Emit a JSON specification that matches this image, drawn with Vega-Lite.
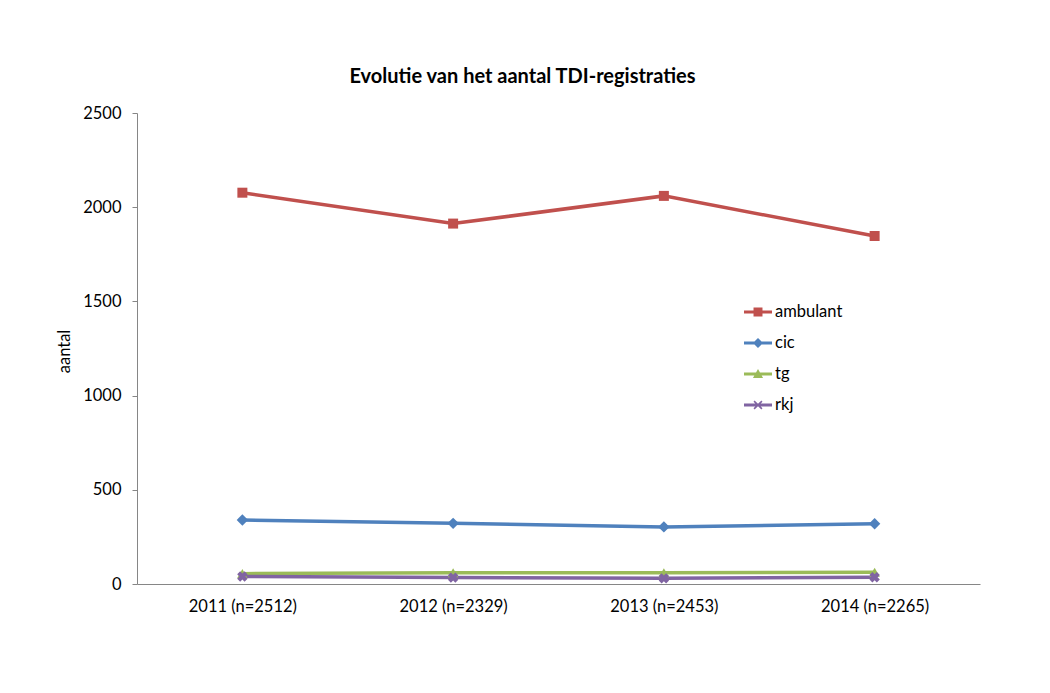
{
  "$schema": "https://vega.github.io/schema/vega-lite/v6.json",
  "autosize": {"type": "none"},
  "width": 843,
  "height": 471,
  "padding": {"left": 137, "top": 113, "right": 70, "bottom": 109},
  "background": "white",
  "config": {
    "font": "Lato",
    "view": {"stroke": null}
  },
  "title": {
    "text": "Evolutie van het aantal TDI-registraties",
    "fontSize": 20,
    "fontWeight": "bold",
    "font": "Lato",
    "color": "#000000",
    "anchor": "middle",
    "dx": -36,
    "offset": 18
  },
  "datasets": {
    "tdi": [
      {"jaar": "2011 (n=2512)", "reeks": "ambulant", "aantal": 2077},
      {"jaar": "2012 (n=2329)", "reeks": "ambulant", "aantal": 1913},
      {"jaar": "2013 (n=2453)", "reeks": "ambulant", "aantal": 2060},
      {"jaar": "2014 (n=2265)", "reeks": "ambulant", "aantal": 1847},
      {"jaar": "2011 (n=2512)", "reeks": "cic", "aantal": 340},
      {"jaar": "2012 (n=2329)", "reeks": "cic", "aantal": 322},
      {"jaar": "2013 (n=2453)", "reeks": "cic", "aantal": 303},
      {"jaar": "2014 (n=2265)", "reeks": "cic", "aantal": 320},
      {"jaar": "2011 (n=2512)", "reeks": "tg", "aantal": 55},
      {"jaar": "2012 (n=2329)", "reeks": "tg", "aantal": 60},
      {"jaar": "2013 (n=2453)", "reeks": "tg", "aantal": 60},
      {"jaar": "2014 (n=2265)", "reeks": "tg", "aantal": 62},
      {"jaar": "2011 (n=2512)", "reeks": "rkj", "aantal": 40},
      {"jaar": "2012 (n=2329)", "reeks": "rkj", "aantal": 34},
      {"jaar": "2013 (n=2453)", "reeks": "rkj", "aantal": 30},
      {"jaar": "2014 (n=2265)", "reeks": "rkj", "aantal": 36}
    ]
  },
  "data": {"name": "tdi"},
  "encoding": {
    "x": {
      "field": "jaar",
      "type": "ordinal",
      "sort": null,
      "scale": {"type": "point", "padding": 0.5},
      "axis": {
        "title": null,
        "labelAngle": 0,
        "labelFontSize": 16.5,
        "labelColor": "#000000",
        "labelPadding": 14,
        "ticks": false,
        "domainColor": "#868686",
        "domainWidth": 1,
        "grid": false
      }
    },
    "y": {
      "field": "aantal",
      "type": "quantitative",
      "scale": {"domain": [0, 2500], "nice": false},
      "axis": {
        "title": "aantal",
        "titleFontSize": 16.5,
        "titleFontWeight": "normal",
        "titleColor": "#000000",
        "titleX": -65,
        "titleY": 238,
        "titleAlign": "center",
        "values": [0, 500, 1000, 1500, 2000, 2500],
        "format": "d",
        "labelFontSize": 16.5,
        "labelColor": "#000000",
        "labelPadding": 11,
        "tickSize": 5,
        "tickColor": "#868686",
        "domainColor": "#868686",
        "grid": false
      }
    },
    "color": {
      "field": "reeks",
      "type": "nominal",
      "scale": {
        "domain": ["ambulant", "cic", "tg", "rkj"],
        "range": ["#c0504d", "#4f81bd", "#9bbb59", "#8064a2"]
      },
      "legend": null
    }
  },
  "layer": [
    {
      "mark": {"type": "line", "strokeWidth": 3.5},
      "encoding": {
        "color": {
          "field": "reeks",
          "type": "nominal",
          "scale": {
            "domain": ["ambulant", "cic", "tg", "rkj"],
            "range": ["#c0504d", "#4f81bd", "#9bbb59", "#8064a2"]
          },
          "legend": {
            "title": null,
            "orient": "none",
            "legendX": 607,
            "legendY": 185,
            "symbolSize": 784,
            "rowPadding": 8,
            "labelFontSize": 16.5,
            "labelColor": "#000000",
            "labelOffset": 3,
            "encode": {
              "symbols": {
                "update": {
                  "shape": {"signal": "datum.value === 'ambulant' ? 'M-1,-0.1H1V0.1H-1Z M-0.32,-0.32H0.32V0.32H-0.32Z' : datum.value === 'cic' ? 'M-1,-0.1H1V0.1H-1Z M0,-0.36L0.36,0L0,0.36L-0.36,0Z' : datum.value === 'tg' ? 'M-1,-0.1H1V0.1H-1Z M0,-0.36L0.36,0.28L-0.36,0.28Z' : 'M-1,-0.1H1V0.1H-1Z M-0.32,-0.24L-0.24,-0.32L0.32,0.24L0.24,0.32Z M0.24,-0.32L0.32,-0.24L-0.24,0.32L-0.32,0.24Z'"},
                  "fill": {"scale": "color", "field": "value"},
                  "strokeWidth": {"value": 0}
                }
              }
            }
          }
        }
      }
    },
    {
      "transform": [{"filter": "datum.reeks === 'ambulant'"}],
      "mark": {"type": "point", "shape": "square", "filled": true, "opacity": 1, "size": 100}
    },
    {
      "transform": [{"filter": "datum.reeks === 'cic'"}],
      "mark": {"type": "point", "shape": "diamond", "filled": true, "opacity": 1, "size": 130}
    },
    {
      "transform": [{"filter": "datum.reeks === 'tg'"}],
      "mark": {"type": "point", "shape": "triangle-up", "filled": true, "opacity": 1, "size": 110}
    },
    {
      "transform": [{"filter": "datum.reeks === 'rkj'"}],
      "mark": {"type": "point", "shape": "cross", "angle": 45, "filled": true, "opacity": 1, "size": 110}
    }
  ]
}
